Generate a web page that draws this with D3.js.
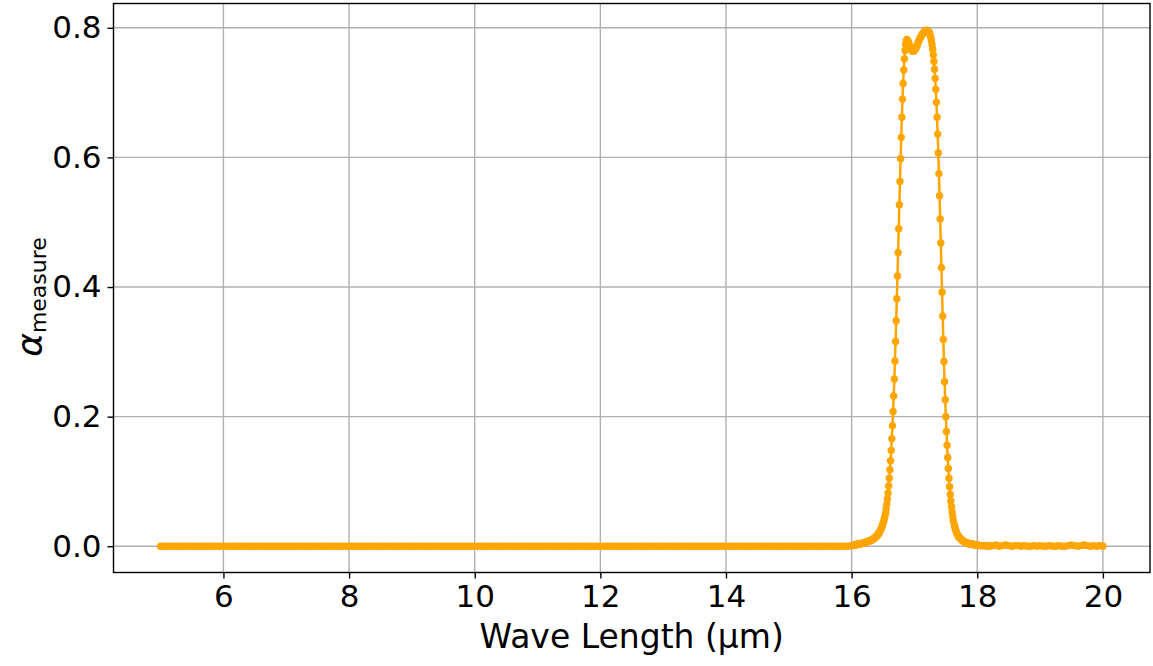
<!DOCTYPE html>
<html>
<head>
<meta charset="utf-8">
<script src="https://cdn.jsdelivr.net/npm/d3@7"></script>
<style>
  body { margin: 0; background: #fff; }
  text { font-family: "DejaVu Sans", sans-serif; fill: #000; }
</style>
</head>
<body>
<script>
// measured absorption, three sampling segments (start, step, values)
const baseStart = 5.0, baseStep = 0.05
const baseAlpha = [
  0,0,0,0,0,0,0,0,0,0,0,0,0,0,0,0,0,0,0,0,
  0,0,0,0,0,0,0,0,0,0,0,0,0,0,0,0,0,0,0,0,
  0,0,0,0,0,0,0,0,0,0,0,0,0,0,0,0,0,0,0,0,
  0,0,0,0,0,0,0,0,0,0,0,0,0,0,0,0,0,0,0,0,
  0,0,0,0,0,0,0,0,0,0,0,0,0,0,0,0,0,0,0,0,
  0,0,0,0,0,0,0,0,0,0,0,0,0,0,0,0,0,0,0,0,
  0,0,0,0,0,0,0,0,0,0,0,0,0,0,0,0,0,0,0,0,
  0,0,0,0,0,0,0,0,0,0,0,0,0,0,0,0,0,0,0,0,
  0,0,0,0,0,0,0,0,0,0,0,0,0,0,0,0,0,0,0,0,
  0,0,0,0,0,0,0,0,0,0,0,0,0,0,0,0,0,0,0,0,
  0,0,0,0,0,0,0,0,0,0,0,0,0,0,0,0,0,0,0,0
]

const peakStart = 16.0, peakStep = 0.01
const peakAlpha = [
  0.001,0.001,0.001,0.002,0.002,0.002,0.002,0.002,0.003,0.003,
  0.003,0.003,0.003,0.004,0.004,0.004,0.004,0.005,0.005,0.005,
  0.005,0.006,0.006,0.006,0.007,0.007,0.007,0.008,0.008,0.008,
  0.009,0.009,0.010,0.010,0.011,0.012,0.012,0.013,0.014,0.015,
  0.016,0.017,0.018,0.020,0.021,0.023,0.025,0.027,0.029,0.032,
  0.035,0.038,0.042,0.046,0.051,0.058,0.065,0.073,0.082,0.093,
  0.105,0.118,0.132,0.148,0.166,0.186,0.208,0.232,0.258,0.286,
  0.316,0.348,0.382,0.417,0.453,0.490,0.527,0.563,0.598,0.631,
  0.662,0.690,0.714,0.735,0.752,0.765,0.774,0.780,0.782,0.781,
  0.779,0.776,0.773,0.770,0.768,0.766,0.765,0.764,0.764,0.764,
  0.765,0.766,0.768,0.770,0.772,0.775,0.777,0.780,0.782,0.784,
  0.786,0.788,0.789,0.791,0.792,0.793,0.794,0.795,0.795,0.796,
  0.796,0.796,0.795,0.794,0.792,0.789,0.785,0.780,0.774,0.767,
  0.758,0.748,0.736,0.722,0.705,0.685,0.662,0.636,0.607,0.575,
  0.541,0.505,0.468,0.430,0.392,0.355,0.319,0.285,0.254,0.226,
  0.200,0.177,0.156,0.137,0.120,0.105,0.092,0.080,0.070,0.061,
  0.053,0.046,0.040,0.035,0.031,0.027,0.024,0.021,0.019,0.017,
  0.015,0.014,0.013,0.012,0.011,0.010,0.009,0.008,0.008,0.007,
  0.007,0.006,0.006,0.005,0.005,0.005,0.004,0.004,0.004,0.004,
  0.003,0.003,0.003,0.003,0.003,0.002,0.002,0.002,0.002,0.002,
  0.002,0.002,0.001,0.001,0.001,0.001,0.001,0.001,0.001,0.001,
  0.001,0.001,0.001,0.001,0.001,0.001,0.000,0.001,0.001,0.000,
  0.000
]

const tailStart = 18.25, tailStep = 0.05
const tailAlpha = [
  0.001,0.002,0.000,0.001,0.002,0.001,0.000,0.001,0.001,0.000,
  0.001,0.000,0.000,0.001,0.000,0.001,0.000,0.000,0.001,0.000,
  0.000,0.001,0.000,0.000,0.001,0.002,0.001,0.000,0.001,0.002,
  0.001,0.000,0.001,0.000,0.001,0.000
]

const xTicks = [6, 8, 10, 12, 14, 16, 18, 20]
const yTicks = [0.0, 0.2, 0.4, 0.6, 0.8]

function segment(start, step, values){
    return values.map((v, i) => ({wl: +(start + i*step).toFixed(3), a: v}))
}
var data = segment(baseStart, baseStep, baseAlpha)
    .concat(segment(peakStart, peakStep, peakAlpha))
    .concat(segment(tailStart, tailStep, tailAlpha))

var width = 1153, height = 666
var plotL = 113.5, plotR = 1150, plotT = 3.5, plotB = 572.5

const svg = d3.select(document.body).append('svg')
    .attr('width', width)
    .attr('height', height)

var x = d3.scaleLinear().domain([4.25, 20.75]).range([plotL, plotR])
var y = d3.scaleLinear().domain([-0.0405, 0.8375]).range([plotB, plotT])

// grid
var grid = svg.append('g')
grid.selectAll('line.gx')
    .data(xTicks)
    .enter()
    .append('line')
    .attr('x1', d => x(d)).attr('x2', d => x(d))
    .attr('y1', plotT).attr('y2', plotB)
    .attr('stroke', '#b0b0b0')
    .style('stroke-width', '1.4px')
grid.selectAll('line.gy')
    .data(yTicks)
    .enter()
    .append('line')
    .attr('x1', plotL).attr('x2', plotR)
    .attr('y1', d => y(d)).attr('y2', d => y(d))
    .attr('stroke', '#b0b0b0')
    .style('stroke-width', '1.4px')

// curve + markers
var g = svg.append('g')
var line = d3.line().x(d => x(d.wl)).y(d => y(d.a))
g.append('path')
    .datum(data)
    .attr('d', line)
    .attr('fill', 'none')
    .attr('stroke', 'orange')
    .style('stroke-width', '2.5px')
g.selectAll('circle')
    .data(data)
    .enter()
    .append('circle')
    .attr('cx', d => x(d.wl))
    .attr('cy', d => y(d.a))
    .attr('r', 3.7)
    .style('fill', 'orange')

// axes
var xAxis = svg.append('g')
    .attr('transform', `translate(0,${plotB})`)
    .call(d3.axisBottom(x).tickValues(xTicks).tickFormat(d3.format('d')).tickSize(6).tickPadding(6))
var yAxis = svg.append('g')
    .attr('transform', `translate(${plotL},0)`)
    .call(d3.axisLeft(y).tickValues(yTicks).tickFormat(d3.format('.1f')).tickSize(6).tickPadding(6))
svg.selectAll('.domain').remove()
svg.selectAll('.tick line').attr('stroke', '#000').style('stroke-width', '1.4px')
svg.selectAll('.tick text')
    .style('font-family', '"DejaVu Sans", sans-serif')
    .style('font-size', '31px')

// frame
svg.append('rect')
    .attr('x', plotL).attr('y', plotT)
    .attr('width', plotR - plotL).attr('height', plotB - plotT)
    .attr('fill', 'none')
    .attr('stroke', '#000')
    .style('stroke-width', '1.4px')

// labels
svg.append('text')
    .attr('x', (plotL + plotR) / 2)
    .attr('y', 648)
    .attr('text-anchor', 'middle')
    .style('font-size', '33px')
    .text('Wave Length (µm)')

var ylab = svg.append('text')
    .attr('transform', `translate(42,297) rotate(-90)`)
    .attr('text-anchor', 'middle')
    .style('font-size', '36px')
ylab.append('tspan').style('font-style', 'italic').text('α')
ylab.append('tspan').attr('dy', '0.2em').style('font-size', '22px').text('measure')
</script>
</body>
</html>
